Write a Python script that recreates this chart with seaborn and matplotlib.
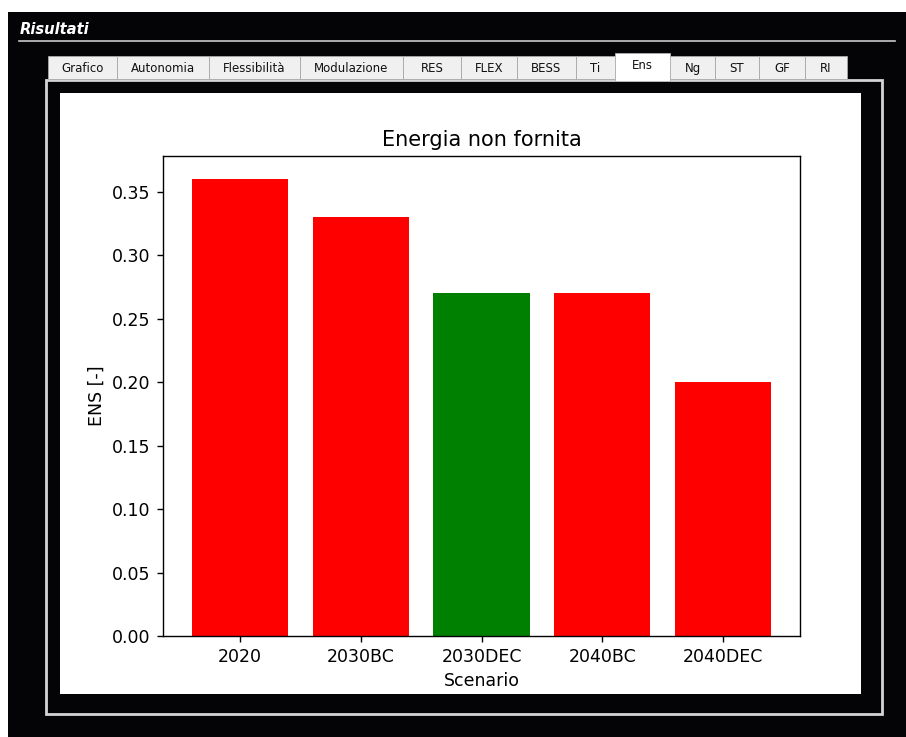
import matplotlib
matplotlib.use("Agg")
import matplotlib.pyplot as plt
from matplotlib.patches import Rectangle
from matplotlib.lines import Line2D
import seaborn as sns
import pandas as pd

# ---- data ----
scenarios = ["2020", "2030BC", "2030DEC", "2040BC", "2040DEC"]
ens_values = [0.36, 0.33, 0.27, 0.27, 0.20]
bar_colors = ["red", "red", "green", "red", "red"]
tab_labels = ["Grafico", "Autonomia", "Flessibilità", "Modulazione", "RES", "FLEX",
              "BESS", "Ti", "Ens", "Ng", "ST", "GF", "RI"]
selected_tab = "Ens"
yticks = [0.00, 0.05, 0.10, 0.15, 0.20, 0.25, 0.30, 0.35]

plt.rcParams['font.family'] = ['DejaVu Sans']

W, H = 906, 737
fig = plt.figure(figsize=(W / 100, H / 100), dpi=100, facecolor="white")


def rect(x0, y0, x1, y1, **kw):
    r = Rectangle((x0 / W, 1 - y1 / H), (x1 - x0) / W, (y1 - y0) / H,
                  transform=fig.transFigure, **kw)
    fig.add_artist(r)
    return r


def hline(x0, x1, y, **kw):
    fig.add_artist(Line2D([x0 / W, x1 / W], [1 - y / H, 1 - y / H],
                          transform=fig.transFigure, **kw))


def text(x, y, s, **kw):
    fig.text(x / W, 1 - y / H, s, **kw)


# dark window background
rect(8, 12, W + 2, H + 2, facecolor="#040407", edgecolor="none", zorder=0)
# header
text(20, 29, "Risultati", color="white", fontsize=10.6, fontweight="bold",
     fontstyle="italic", ha="left", va="center", zorder=2)
hline(19, 895, 41, color="#c8c8c8", lw=1.2, zorder=2)

# tab panel border
rect(46, 80, 882, 714, facecolor="#040407", edgecolor="#d4d4d4", lw=2.0, zorder=1)
# white figure area
rect(60, 93, 861, 694, facecolor="white", edgecolor="none", zorder=1.5)

# tabs
tab_edges = [48, 117, 209, 300, 403, 461, 517, 576, 615, 670, 715, 759, 805, 847]
for i, lab in enumerate(tab_labels):
    x0, x1 = tab_edges[i], tab_edges[i + 1]
    if lab == selected_tab:
        rect(x0, 53, x1, 81, facecolor="white", edgecolor="#b0b0b0", lw=0.6, zorder=3)
        text((x0 + x1) / 2, 65.5, lab, fontsize=8.5, color="#111111",
             ha="center", va="center", zorder=4)
    else:
        rect(x0, 56, x1, 79, facecolor="#f0f0f0", edgecolor="#a8a8a8", lw=0.6, zorder=2.5)
        text((x0 + x1) / 2, 68.5, lab, fontsize=8.5, color="#111111",
             ha="center", va="center", zorder=4)

# ---- chart axes ----
ax_l, ax_r, ax_t, ax_b = 163, 800, 156, 636
ax = fig.add_axes([ax_l / W, 1 - ax_b / H, (ax_r - ax_l) / W, (ax_b - ax_t) / H], zorder=5)
ax.set_facecolor("white")

df = pd.DataFrame({"Scenario": scenarios, "ENS": ens_values})
sns.barplot(data=df, x="Scenario", y="ENS", hue="Scenario", palette=bar_colors,
            saturation=1, linewidth=0, legend=False, width=0.8, ax=ax)

ax.set_xlim(-0.64, 4.64)
ax.set_ylim(0, 0.378)
ax.set_yticks(yticks)
ax.set_yticklabels([f"{v:.2f}" for v in yticks])
ax.set_title("Energia non fornita", fontsize=15, pad=7.5)
ax.set_xlabel("Scenario", fontsize=12.5, labelpad=4.5)
ax.set_ylabel("ENS [-]", fontsize=12.5, labelpad=5)
ax.tick_params(labelsize=12.5, length=4.4, width=1.0, color="black", pad=4.4)
for sp in ax.spines.values():
    sp.set_linewidth(1.0)
    sp.set_color("black")

fig.savefig("out.png", dpi=100, facecolor="white")
